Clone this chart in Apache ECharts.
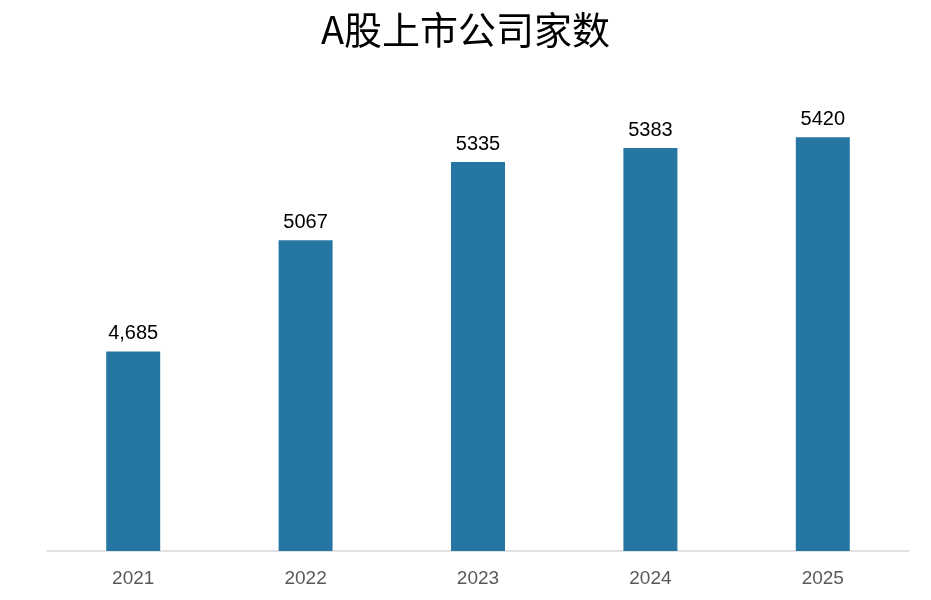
<!DOCTYPE html>
<html>
<head>
<meta charset="utf-8">
<script src="https://cdn.jsdelivr.net/npm/echarts@6/dist/echarts.min.js"></script>
<style>html,body{margin:0;padding:0;background:#fff}#container{width:931px;height:600px}</style>
</head>
<body>
<div id="container"></div>
<script>
var years = ['2021', '2022', '2023', '2024', '2025'];
var counts = [4685, 5067, 5335, 5383, 5420];
var valueLabels = ['4,685', '5067', '5335', '5383', '5420'];

var myChart = echarts.init(document.getElementById('container'));

myChart.setOption({
    backgroundColor: '#fff',
    animation: false,
    title: {
        text: 'A股上市公司家数',
        left: 'center',
        top: 6,
        textStyle: {
            color: '#000',
            fontSize: 38,
            fontWeight: 'normal',
            fontFamily: 'Noto Sans CJK SC'
        }
    },
    grid: {left: 47, right: 22, top: 114, bottom: 49},
    xAxis: {
        type: 'category',
        data: years,
        axisTick: {show: false},
        axisLine: {lineStyle: {color: '#d9d9d9', width: 1.5}},
        axisLabel: {color: '#595959', fontSize: 19, margin: 18, fontFamily: 'Liberation Sans'}
    },
    yAxis: {
        type: 'value',
        min: 4000,
        max: 5500,
        show: false,
        splitLine: {show: false}
    },
    series: [{
        type: 'bar',
        data: counts,
        barWidth: 54,
        itemStyle: {color: '#2576a3'},
        label: {
            show: true,
            position: 'top',
            distance: 8,
            color: '#000',
            fontSize: 20,
            fontFamily: 'Liberation Sans',
            formatter: (p) => valueLabels[p.dataIndex]
        }
    }]
});
</script>
</body>
</html>
